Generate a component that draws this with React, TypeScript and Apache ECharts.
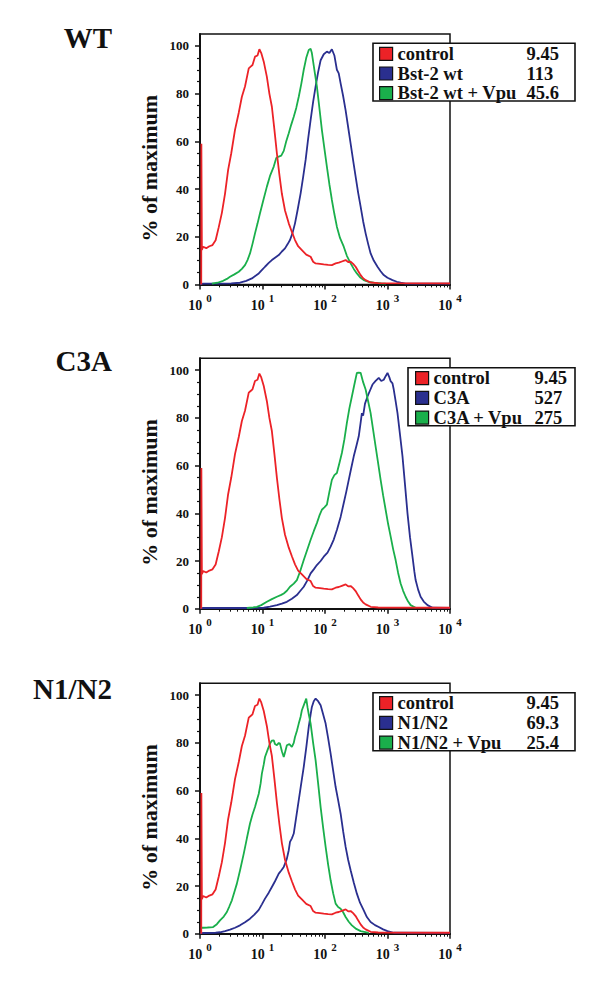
import React, { useEffect, useRef } from 'react';
import * as echarts from 'echarts';

const FONT = '"Liberation Serif", "Times New Roman", Times, serif';
const RED = '#ec2227';
const BLUE = '#2a2f8f';
const GREEN = '#1aaf4b';
const INK = '#111111';

// ---------- data ----------
const panelTitles = ['WT', 'C3A', 'N1/N2'];
const panelNames = [
  ['control', 'Bst-2 wt', 'Bst-2 wt + Vpu'],
  ['control', 'C3A', 'C3A + Vpu'],
  ['control', 'N1/N2', 'N1/N2 + Vpu'],
];
const panelMfi = [
  ['9.45', '113', '45.6'],
  ['9.45', '527', '275'],
  ['9.45', '69.3', '25.4'],
];
const xTickExponents = [0, 1, 2, 3, 4];
const yTickValues = [0, 20, 40, 60, 80, 100];

// curves: [log10(fluorescence), % of maximum]
const controlCurve = [
  [0.02, 0], [0.022, 59], [0.03, 14.5], [0.05, 15.8], [0.1, 15.2], [0.15, 16], [0.2, 16.5], [0.25, 18.5],
  [0.3, 24], [0.35, 30], [0.4, 38], [0.45, 48], [0.5, 55], [0.56, 64.8], [0.62, 72], [0.67, 78.7],
  [0.72, 83], [0.78, 90.6], [0.81, 91.3], [0.84, 92], [0.88, 95.5], [0.92, 96], [0.95, 98.6], [0.98, 97],
  [1.02, 93.4], [1.07, 87], [1.11, 80], [1.15, 74.5], [1.19, 65], [1.23, 55], [1.27, 46], [1.31, 38],
  [1.36, 31], [1.42, 25.6], [1.47, 22], [1.52, 18.6], [1.57, 16], [1.63, 14.4], [1.7, 12.5], [1.77, 11.6],
  [1.81, 9.5], [1.85, 8.8], [1.92, 8.6], [1.98, 8.4], [2.05, 8.2], [2.11, 8.1], [2.17, 8.8], [2.22, 9.1],
  [2.27, 9.6], [2.33, 10.2], [2.37, 9.4], [2.41, 9.5], [2.45, 8.6], [2.49, 7.4], [2.53, 5.6], [2.57, 3.9],
  [2.61, 2.6], [2.65, 1.8], [2.73, 0.8], [2.85, 0.5], [4, 0.4],
];
const wtCurve = [
  [0, 0], [0.05, 0.3], [0.3, 0.3], [0.5, 0.4], [0.64, 0.7], [0.74, 1.5], [0.83, 2.5], [0.9, 3.8],
  [0.94, 4.6], [1.0, 6.3], [1.04, 7.4], [1.1, 9], [1.15, 10.2], [1.2, 11.2], [1.26, 12.3], [1.31, 13.8],
  [1.36, 15.1], [1.4, 16.8], [1.44, 18.6], [1.48, 21.5], [1.52, 25.6], [1.56, 31], [1.61, 38.2], [1.65, 45],
  [1.69, 52.2], [1.73, 61], [1.77, 69], [1.81, 76.5], [1.85, 83], [1.89, 89], [1.93, 94], [1.98, 96.5],
  [2.03, 97.6], [2.07, 97], [2.11, 98.6], [2.15, 96], [2.19, 90], [2.22, 88.5], [2.25, 84.3], [2.29, 79],
  [2.33, 73], [2.37, 66], [2.41, 59], [2.45, 52], [2.49, 45.2], [2.53, 38.5], [2.57, 32.6], [2.61, 26.5],
  [2.65, 21.4], [2.69, 17], [2.73, 13], [2.78, 10], [2.84, 7.4], [2.89, 5.5], [2.94, 3.9], [3.0, 2.8],
  [3.08, 1.8], [3.15, 1.1], [3.21, 0.7], [3.29, 0.3], [4, 0.3],
];
const wtVpuCurve = [
  [0.19, 0.3], [0.28, 0.7], [0.37, 1.5], [0.43, 2.3], [0.48, 3.2], [0.55, 4.2], [0.62, 5.3], [0.67, 6.5],
  [0.72, 8.1], [0.76, 10.2], [0.8, 13], [0.84, 17], [0.88, 21.4], [0.92, 25.5], [0.96, 29.8], [1.01, 35],
  [1.07, 41], [1.12, 45.5], [1.18, 49.4], [1.22, 53], [1.26, 53.6], [1.3, 54], [1.34, 56], [1.38, 60],
  [1.42, 63.4], [1.46, 67], [1.5, 70.3], [1.54, 74], [1.58, 78.7], [1.62, 84], [1.66, 90], [1.7, 95],
  [1.74, 98.3], [1.77, 98.8], [1.79, 97], [1.83, 90], [1.87, 83], [1.91, 74], [1.95, 64.8], [1.99, 57],
  [2.03, 49.4], [2.07, 42], [2.11, 35.4], [2.15, 29.5], [2.19, 24.2], [2.24, 19.5], [2.3, 15.8], [2.35, 12],
  [2.41, 8.8], [2.46, 6.5], [2.51, 4.6], [2.56, 3], [2.62, 1.8], [2.7, 1], [2.78, 0.7], [2.9, 0.4], [2.97, 0.3],
];
const c3aCurve = [
  [0, 0], [0.05, 0.3], [0.8, 0.3], [1.02, 0.4], [1.12, 0.9], [1.23, 1.5], [1.31, 2.1], [1.39, 2.9],
  [1.47, 4.2], [1.55, 5.7], [1.6, 7.3], [1.66, 9.2], [1.72, 12], [1.77, 14.8], [1.82, 16.5], [1.87, 18.3],
  [1.93, 20], [1.98, 21.8], [2.04, 23.5], [2.09, 26], [2.14, 29], [2.19, 33], [2.25, 38.5], [2.3, 44.3],
  [2.34, 49], [2.38, 54], [2.42, 59], [2.46, 63.9], [2.5, 68], [2.54, 72.3], [2.57, 78], [2.59, 82],
  [2.61, 81], [2.64, 86], [2.68, 89], [2.72, 91.5], [2.76, 94], [2.81, 95.5], [2.86, 96.8], [2.9, 95.5],
  [2.94, 96], [2.97, 97.5], [3.0, 98.9], [3.03, 97], [3.05, 95.4], [3.08, 94.5], [3.1, 91.9], [3.13, 87],
  [3.16, 82], [3.2, 73], [3.24, 63.9], [3.28, 52], [3.32, 40], [3.36, 30], [3.4, 21.8], [3.43, 15.5],
  [3.45, 12], [3.49, 8], [3.53, 5], [3.58, 3], [3.64, 1.5], [3.72, 0.4], [4, 0.3],
];
const c3aVpuCurve = [
  [0.75, 0.3], [0.85, 0.6], [0.91, 0.8], [0.98, 1.5], [1.07, 2.9], [1.15, 4], [1.23, 5], [1.3, 5.8],
  [1.34, 6.4], [1.39, 7.5], [1.44, 9.2], [1.5, 10.5], [1.55, 12], [1.6, 15.5], [1.66, 20.4], [1.72, 25],
  [1.77, 28.9], [1.82, 32.5], [1.87, 35.9], [1.91, 39], [1.95, 41.5], [1.99, 42.5], [2.03, 43.6], [2.07, 49],
  [2.11, 54], [2.15, 56], [2.19, 56.9], [2.23, 61], [2.27, 65.3], [2.31, 71], [2.35, 77.9], [2.39, 84],
  [2.43, 89], [2.47, 94], [2.51, 98.9], [2.54, 99], [2.57, 98.9], [2.61, 95], [2.65, 91.9], [2.69, 87],
  [2.73, 82], [2.77, 75], [2.81, 68], [2.85, 61], [2.89, 54], [2.93, 47.5], [2.97, 41.5], [3.01, 35.5],
  [3.05, 30.3], [3.09, 25], [3.13, 20.4], [3.17, 15], [3.21, 10.6], [3.25, 7.5], [3.29, 5], [3.33, 3],
  [3.37, 1.5], [3.45, 0.4],
];
const n1n2Curve = [
  [0, 0], [0.05, 0.3], [0.25, 0.4], [0.32, 0.6], [0.4, 1.1], [0.48, 1.7], [0.56, 2.5], [0.64, 3.5],
  [0.72, 4.8], [0.8, 6.3], [0.87, 8], [0.94, 10], [0.99, 12.3], [1.04, 14.7], [1.1, 17.2], [1.15, 19.6],
  [1.2, 22], [1.26, 25.2], [1.3, 26.5], [1.34, 28], [1.37, 30], [1.39, 31.5], [1.42, 35], [1.44, 38.5],
  [1.47, 40], [1.5, 42], [1.54, 49], [1.58, 56], [1.62, 63], [1.66, 70], [1.7, 78], [1.74, 86.7],
  [1.77, 92], [1.79, 95.1], [1.82, 97.5], [1.85, 98.6], [1.89, 97.5], [1.93, 95.8], [1.97, 92], [2.01, 88.1],
  [2.05, 82], [2.09, 75.5], [2.13, 68.5], [2.17, 61.5], [2.21, 56], [2.25, 50.3], [2.29, 43], [2.33, 36.4],
  [2.37, 31], [2.41, 26.6], [2.46, 21.5], [2.51, 16.8], [2.56, 13], [2.62, 9.8], [2.67, 7], [2.73, 4.9],
  [2.8, 3.6], [2.86, 2.8], [2.93, 1.8], [3.0, 1.1], [3.1, 0.4], [4, 0.3],
];
const n1n2VpuCurve = [
  [0.02, 2.5], [0.05, 2.5], [0.12, 2.6], [0.21, 2.8], [0.27, 4], [0.32, 5.6], [0.38, 7.2], [0.43, 9.1],
  [0.47, 11.5], [0.51, 14], [0.55, 17.5], [0.59, 21], [0.64, 26.5], [0.7, 33.6], [0.75, 40], [0.8, 46.2],
  [0.84, 50], [0.88, 53.1], [0.91, 56], [0.94, 58.7], [0.97, 63], [0.99, 67.1], [1.02, 71], [1.04, 74.1],
  [1.08, 77], [1.12, 79.7], [1.15, 81], [1.18, 81.1], [1.2, 79.5], [1.23, 79], [1.26, 80], [1.28, 79.7],
  [1.31, 76.5], [1.34, 74.1], [1.36, 76], [1.39, 79], [1.43, 79.5], [1.47, 78.3], [1.5, 80], [1.52, 82.5],
  [1.55, 85], [1.58, 88.1], [1.61, 91], [1.63, 93.7], [1.67, 96.5], [1.7, 98.6], [1.72, 95], [1.74, 92],
  [1.77, 88.1], [1.81, 80], [1.85, 72.7], [1.89, 63], [1.93, 53.1], [1.97, 44.5], [2.01, 36.4], [2.05, 29],
  [2.09, 22.4], [2.13, 17], [2.17, 12.6], [2.21, 11.2], [2.25, 10.5], [2.29, 9], [2.33, 7], [2.38, 5],
  [2.43, 3.5], [2.5, 2], [2.57, 1.1], [2.7, 0.3],
];
const panelCurves = [
  [controlCurve, wtCurve, wtVpuCurve],
  [controlCurve, c3aCurve, c3aVpuCurve],
  [controlCurve, n1n2Curve, n1n2VpuCurve],
];
const seriesColors = [RED, BLUE, GREEN];

// ---------- layout ----------
const gridTops = [34, 358.3, 683.3];
const gridHeight = 250.4;
const titleTops = [23.8, 346.8, 674.5];
const legendLayouts = [
  { x0: 373, y0: 43.3, x1: 575, y1: 101, padLeft: 6, nameW: 129, valW: 36 },
  { x0: 408, y0: 367.7, x1: 575, y1: 425.7, padLeft: 7, nameW: 101, valW: 30 },
  { x0: 373, y0: 692.7, x1: 575, y1: 750.7, padLeft: 6, nameW: 129, valW: 36 },
];

const xMajor = xTickExponents.map((e) => Math.pow(10, e));
const xMinor: number[] = [];
for (let d = 0; d < 4; d++) for (let k = 2; k <= 9; k++) xMinor.push(k * Math.pow(10, d));
const yMinor: number[] = [];
for (let v = 5; v < 100; v += 5) if (v % 20 !== 0) yMinor.push(v);

function buildOption() {
  const grid: any[] = [];
  const xAxis: any[] = [];
  const yAxis: any[] = [];
  const series: any[] = [];
  const legend: any[] = [];
  const title: any[] = [];
  const elements: any[] = [];

  panelTitles.forEach((t, i) => {
    grid.push({
      left: 200, width: 250, top: gridTops[i], height: gridHeight,
      show: true, borderColor: INK, borderWidth: 1.5, backgroundColor: 'transparent',
      containLabel: false, outerBoundsMode: 'none',
    });
    title.push({
      text: t, right: 488, top: titleTops[i], padding: 0,
      textStyle: { fontFamily: FONT, fontWeight: 'bold', fontSize: 29, lineHeight: 29, color: INK },
    });
    xAxis.push({
      type: 'log', logBase: 10, gridIndex: i, min: 1, max: 10000, position: 'bottom',
      axisLine: { show: true, onZero: false, lineStyle: { color: INK, width: 2 } },
      axisTick: { show: true, customValues: xMajor, length: 5, lineStyle: { color: INK, width: 1.5 } },
      axisLabel: {
        customValues: xMajor, margin: 8,
        fontFamily: FONT, fontWeight: 'bold', fontSize: 14, color: INK,
        formatter: (v: number) => `{b|10}{e|${Math.round(Math.log10(v))}}`,
        rich: {
          b: { fontFamily: FONT, fontWeight: 'bold', fontSize: 14, lineHeight: 20, color: INK, verticalAlign: 'bottom' },
          e: { fontFamily: FONT, fontWeight: 'bold', fontSize: 11, lineHeight: 11, color: INK, verticalAlign: 'top', padding: [0, 0, 0, 4] },
        },
      },
      splitLine: { show: false }, minorTick: { show: false },
    });
    xAxis.push({
      type: 'log', logBase: 10, gridIndex: i, min: 1, max: 10000, position: 'bottom',
      axisLine: { show: false, onZero: false },
      axisTick: { show: true, customValues: xMinor, length: 3, lineStyle: { color: INK, width: 1 } },
      axisLabel: { show: false }, splitLine: { show: false },
    });
    yAxis.push({
      type: 'value', gridIndex: i, min: 0, max: 105, position: 'left',
      axisLine: { show: true, onZero: false, lineStyle: { color: INK, width: 2 } },
      axisTick: { show: true, customValues: yTickValues, length: 5, lineStyle: { color: INK, width: 1.5 } },
      axisLabel: { customValues: yTickValues, margin: 11, fontFamily: FONT, fontWeight: 'bold', fontSize: 13, color: INK },
      splitLine: { show: false },
      name: '% of maximum', nameLocation: 'middle', nameRotate: 90, nameGap: 40,
      nameTextStyle: { fontFamily: FONT, fontWeight: 'bold', fontSize: 22, color: INK, padding: [0, 18, 0, 0] },
    });
    yAxis.push({
      type: 'value', gridIndex: i, min: 0, max: 105, position: 'left',
      axisLine: { show: false, onZero: false },
      axisTick: { show: true, customValues: yMinor, length: 3, lineStyle: { color: INK, width: 1.2 } },
      axisLabel: { show: false }, splitLine: { show: false },
    });

    const names = panelNames[i];
    const curves = panelCurves[i];
    [1, 2, 0].forEach((k) => {
      series.push({
        type: 'line', name: names[k], xAxisIndex: 2 * i, yAxisIndex: 2 * i,
        data: curves[k].map(([l, y]) => [Math.pow(10, l), y]),
        showSymbol: false, symbol: 'none', smooth: false, clip: true,
        color: seriesColors[k],
        lineStyle: { color: seriesColors[k], width: 1.8 },
        itemStyle: { color: seriesColors[k] },
        emphasis: { disabled: true },
      });
    });

    const L = legendLayouts[i];
    const mfi = panelMfi[i];
    elements.push({
      type: 'polygon', z: 50, silent: true,
      shape: { points: [[L.x0, L.y0], [L.x1, L.y0], [L.x1, L.y1], [L.x0, L.y1]] },
      style: { fill: '#ffffff', stroke: INK, lineWidth: 1.6 },
    });
    const txt = { fontFamily: FONT, fontWeight: 'bold', fontSize: 18.5, lineHeight: 18, color: INK };
    legend.push({
      orient: 'vertical', left: L.x0, top: L.y0, z: 60,
      padding: [1, 0, 1, L.padLeft],
      itemWidth: 13, itemHeight: 13, itemGap: 0.7,
      icon: 'rect', selectedMode: false,
      borderWidth: 0, backgroundColor: 'transparent',
      data: names.map((n, k) => ({ name: n, itemStyle: { color: seriesColors[k], borderColor: INK, borderWidth: 1.2 } })),
      itemStyle: { borderColor: INK, borderWidth: 1.2 },
      formatter: (name: string) => `{n|${name}}{v|${mfi[names.indexOf(name)]}}`,
      textStyle: {
        ...txt,
        rich: { n: { ...txt, width: L.nameW }, v: { ...txt, width: L.valW } },
      },
    });
  });

  return { animation: false, backgroundColor: '#ffffff', title, grid, xAxis, yAxis, legend, series, graphic: { elements } };
}

export default function App() {
  const ref = useRef<HTMLDivElement>(null);
  useEffect(() => {
    document.body.style.margin = '0';
    const chart = echarts.init(ref.current!, undefined, { renderer: 'svg' });
    chart.setOption(buildOption() as any);
    return () => chart.dispose();
  }, []);
  return <div ref={ref} style={{ width: 600, height: 988 }} />;
}
